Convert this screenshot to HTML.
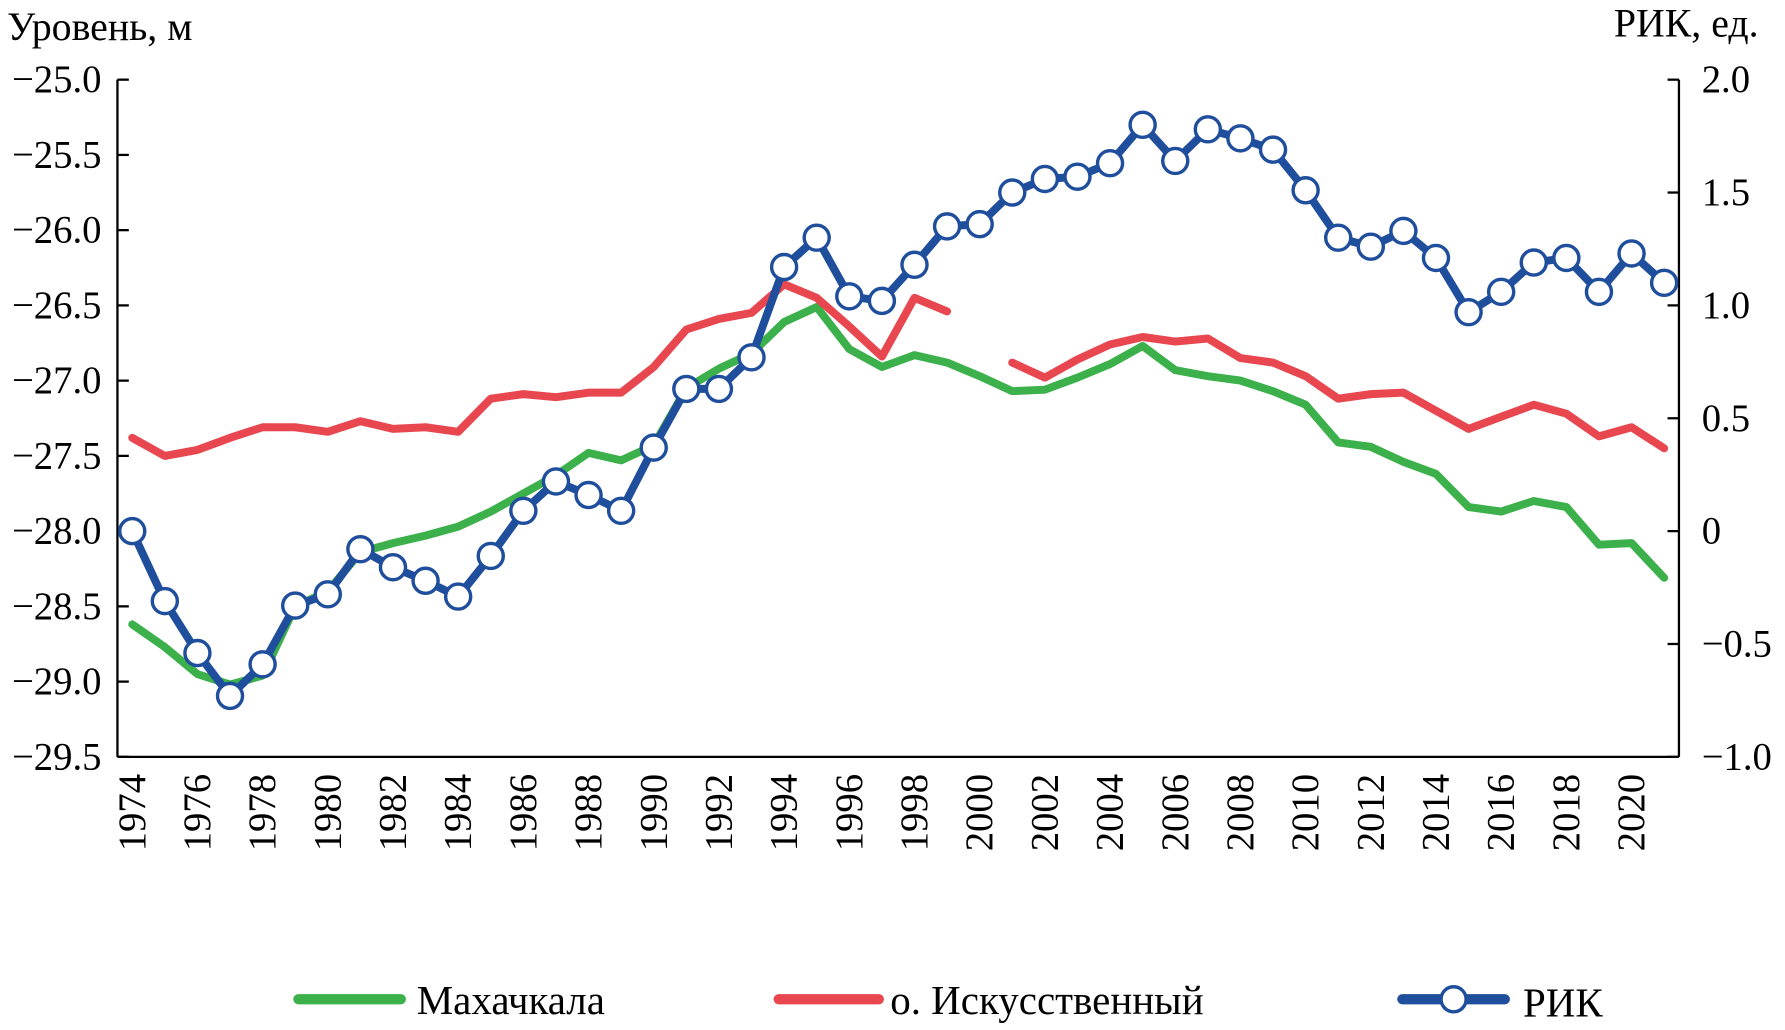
<!DOCTYPE html>
<html><head><meta charset="utf-8"><style>
html,body{margin:0;padding:0;background:#fff;}
svg{display:block;font-family:"Liberation Serif",serif;}
</style></head><body>
<svg id="chart" width="1785" height="1030" viewBox="0 0 1568 905" xmlns="http://www.w3.org/2000/svg">
<text x="6" y="35" font-size="35">Уровень, м</text>
<text x="1545" y="32" font-size="35" text-anchor="end">РИК, ед.</text>
<g id="axes"></g>
<g id="series"></g>
<g>
<line x1="262" y1="878" x2="352" y2="878" stroke="#3cb04a" stroke-width="9" stroke-linecap="round"/>
<text x="366" y="891" font-size="36">Махачкала</text>
<line x1="684" y1="878" x2="772" y2="878" stroke="#e8474f" stroke-width="9" stroke-linecap="round"/>
<text x="782" y="891" font-size="36">о. Искусственный</text>
<line x1="1232" y1="878" x2="1322" y2="878" stroke="#1f4e9c" stroke-width="9" stroke-linecap="round"/>
<circle cx="1277" cy="878" r="11" fill="#fff" stroke="#1f4e9c" stroke-width="3"/>
<text x="1338" y="893" font-size="36">РИК</text>
</g>
</svg>
<script>
const years = [1974,1975,1976,1977,1978,1979,1980,1981,1982,1983,1984,1985,1986,1987,1988,1989,1990,1991,1992,1993,1994,1995,1996,1997,1998,1999,2000,2001,2002,2003,2004,2005,2006,2007,2008,2009,2010,2011,2012,2013,2014,2015,2016,2017,2018,2019,2020,2021];
const makhachkala = [-28.62,-28.77,-28.95,-29.02,-28.96,-28.50,-28.40,-28.14,-28.08,-28.03,-27.97,-27.87,-27.75,-27.63,-27.48,-27.53,-27.43,-27.05,-26.92,-26.82,-26.61,-26.51,-26.79,-26.91,-26.83,-26.88,-26.97,-27.07,-27.06,-26.98,-26.89,-26.77,-26.93,-26.97,-27.00,-27.07,-27.16,-27.41,-27.44,-27.54,-27.62,-27.84,-27.87,-27.80,-27.84,-28.09,-28.08,-28.31];
const iskusstvenny = [-27.38,-27.50,-27.46,-27.38,-27.31,-27.31,-27.34,-27.27,-27.32,-27.31,-27.34,-27.12,-27.09,-27.11,-27.08,-27.08,-26.91,-26.66,-26.59,-26.55,-26.36,-26.45,-26.64,-26.84,-26.45,-26.54,null,-26.88,-26.98,-26.86,-26.76,-26.71,-26.74,-26.72,-26.85,-26.88,-26.97,-27.12,-27.09,-27.08,-27.20,-27.32,-27.24,-27.16,-27.22,-27.37,-27.31,-27.45];
const rik = [0.0,-0.31,-0.54,-0.73,-0.59,-0.33,-0.28,-0.08,-0.16,-0.22,-0.29,-0.11,0.09,0.22,0.16,0.09,0.37,0.63,0.63,0.77,1.17,1.30,1.04,1.02,1.18,1.35,1.36,1.50,1.56,1.57,1.63,1.80,1.64,1.78,1.74,1.69,1.51,1.30,1.26,1.33,1.21,0.97,1.06,1.19,1.21,1.06,1.23,1.10];
const leftTicks = [-25.0,-25.5,-26.0,-26.5,-27.0,-27.5,-28.0,-28.5,-29.0,-29.5];
const leftTickLabels = ["−25.0","−25.5","−26.0","−26.5","−27.0","−27.5","−28.0","−28.5","−29.0","−29.5"];
const rightTicks = [2.0,1.5,1.0,0.5,0,-0.5,-1.0];
const rightTickLabels = ["2.0","1.5","1.0","0.5","0","−0.5","−1.0"];
const yearLabels = [1974,1976,1978,1980,1982,1984,1986,1988,1990,1992,1994,1996,1998,2000,2002,2004,2006,2008,2010,2012,2014,2016,2018,2020];

const NS="http://www.w3.org/2000/svg";
const L=103,R=1475,T=70,B=665;
const xS=y=>116+(y-1974)*(1462-116)/47;
const yL=v=>T+(-25-v)/4.5*(B-T);
const yR=v=>T+(2-v)/3*(B-T);
function mk(tag,attrs,parent){const e=document.createElementNS(NS,tag);for(const k in attrs)e.setAttribute(k,attrs[k]);parent.appendChild(e);return e;}
const ax=document.getElementById('axes'), sg=document.getElementById('series');
let e;
e=mk('line',{x1:L,y1:T,x2:L,y2:B,stroke:'#000','stroke-width':2},ax);


e=mk('line',{x1:R,y1:T,x2:R,y2:B,stroke:'#000','stroke-width':2},ax);


e=mk('line',{x1:L,y1:B,x2:R,y2:B,stroke:'#000','stroke-width':2},ax);


leftTicks.forEach((v,i)=>{
  const y=yL(v);
  const t=mk('line',{x1:L,y1:y,x2:L+10,y2:y,stroke:'#000','stroke-width':2},ax);
  
  
  const tx=mk('text',{x:89,y:y+11,'font-size':34,'text-anchor':'end'},ax);
  tx.textContent=leftTickLabels[i];
  
  
});
rightTicks.forEach((v,i)=>{
  const y=yR(v);
  const t=mk('line',{x1:R-10,y1:y,x2:R,y2:y,stroke:'#000','stroke-width':2},ax);
  
  
  const tx=mk('text',{x:1495,y:y+11,'font-size':34},ax);
  tx.textContent=rightTickLabels[i];
  
  
});
yearLabels.forEach(yr=>{
  const x=xS(yr)+11;
  const tx=mk('text',{x:x,y:680,'font-size':34,'text-anchor':'end',transform:`rotate(-90 ${x} 680)`},ax);
  tx.textContent=yr;
  
  
});
function path(vals,sc){let d='',pen=false;vals.forEach((v,i)=>{if(v===null){pen=false;return;}d+=(pen?'L':'M')+xS(years[i]).toFixed(1)+' '+sc(v).toFixed(1)+' ';pen=true;});return d;}
e=mk('path',{d:path(makhachkala,yL),fill:'none',stroke:'#3cb04a','stroke-width':7,'stroke-linejoin':'round','stroke-linecap':'round'},sg);


e=mk('path',{d:path(iskusstvenny,yL),fill:'none',stroke:'#e8474f','stroke-width':7,'stroke-linejoin':'round','stroke-linecap':'round'},sg);


e=mk('path',{d:path(rik,yR),fill:'none',stroke:'#1f4e9c','stroke-width':7,'stroke-linejoin':'round','stroke-linecap':'round'},sg);


rik.forEach((v,i)=>{
  const c=mk('circle',{cx:xS(years[i]),cy:yR(v),r:11,fill:'#fff',stroke:'#1f4e9c','stroke-width':3},sg);
  
  
});
</script>
</body></html>
